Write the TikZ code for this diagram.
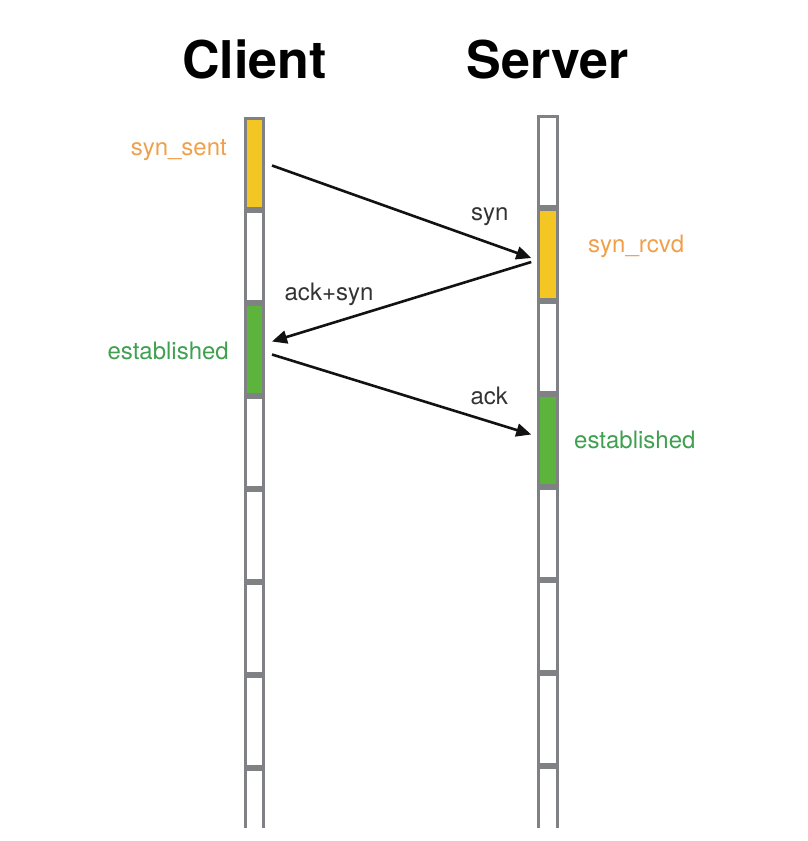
\documentclass[tikz,border=0pt]{standalone}
\usepackage{fontspec}
\setmainfont{TeX Gyre Heros}
\usepackage{xcolor}
\usetikzlibrary{positioning,arrows.meta}

\definecolor{cellgray}{HTML}{808184}
\definecolor{synyellow}{HTML}{F3C623}
\definecolor{estgreen}{HTML}{5DB43C}
\definecolor{synorange}{HTML}{F0A04B}
\definecolor{esttext}{HTML}{3FA04F}

\tikzset{
    cell/.style={draw=cellgray, line width=3pt, fill=white, inner sep=0pt,
        minimum width=18.5pt, minimum height=90pt},
    msg/.style={line width=2.6pt, draw=black!93, -{Triangle[length=15pt,width=13pt]}},
    msglabel/.style={font=\fontsize{24}{28}\selectfont, text=black!80, anchor=base},
    statelabel/.style={font=\fontsize{24}{28}\selectfont, inner sep=0pt},
    title/.style={font=\fontsize{52}{60}\selectfont\bfseries, anchor=base}
}

\begin{document}
\begin{tikzpicture}[x=1pt,y=-1pt]
    \useasboundingbox (0,0) rectangle (807,841);

    % titles
    \node[title] (client) at (254.25,78) {Client};
    \node[title] (server) at (548,78) {Server};

    % time lines
    \begin{scope}
        \clip (0,0) rectangle (807,827);
        \node[cell, fill=synyellow] (c1) at (254.25,163.5) {};
        \foreach \i/\j/\f in {1/2/white, 2/3/estgreen, 3/4/white, 4/5/white, 5/6/white, 6/7/white, 7/8/white}
            \node[cell, fill=\f, below=0pt of c\i] (c\j) {};
        \node[cell] (s1) at (548,161.5) {};
        \foreach \i/\j/\f in {1/2/synyellow, 2/3/white, 3/4/estgreen, 4/5/white, 5/6/white, 6/7/white, 7/8/white}
            \node[cell, fill=\f, below=0pt of s\i] (s\j) {};
    \end{scope}

    % states
    \node[statelabel, text=synorange, anchor=base east] (sent) at (227,155) {syn\_sent};
    \node[statelabel, text=esttext, anchor=base east] (cest) at (229,359) {established};
    \node[statelabel, text=synorange, anchor=base west] (rcvd) at (588,252) {syn\_rcvd};
    \node[statelabel, text=esttext, anchor=base west] (sest) at (574,448) {established};

    % handshake
    \draw[msg] ([xshift=7pt,yshift=-2pt]c1.east) -- ([xshift=-6pt,yshift=-3.5pt]s2.west)
        node[msglabel, pos=0.84, yshift=23pt] {syn};
    \draw[msg] ([xshift=-6pt,yshift=-7.5pt]s2.west) -- ([xshift=7pt,yshift=8pt]c3.east)
        node[msglabel, pos=0.78, yshift=24pt] {ack+syn};
    \draw[msg] ([xshift=7pt,yshift=-5pt]c3.east) -- ([xshift=-6pt,yshift=6pt]s4.west)
        node[msglabel, pos=0.838, yshift=17.5pt] {ack};
\end{tikzpicture}
\end{document}
